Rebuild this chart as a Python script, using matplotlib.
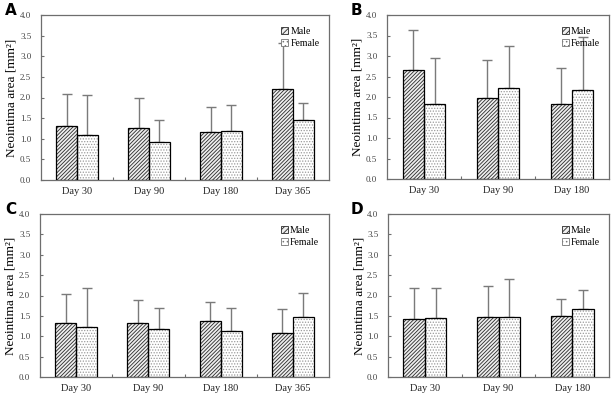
import matplotlib
matplotlib.use("Agg")
import matplotlib.pyplot as plt
from matplotlib.patches import Patch
import numpy as np

plt.rcParams['hatch.linewidth'] = 0.6

# Data
days_4 = ["Day 30", "Day 90", "Day 180", "Day 365"]
days_3 = ["Day 30", "Day 90", "Day 180"]

A_male = [1.30, 1.27, 1.17, 2.21]
A_male_err = [0.78, 0.73, 0.61, 1.11]
A_female = [1.09, 0.92, 1.20, 1.46]
A_female_err = [0.96, 0.54, 0.61, 0.40]

B_male = [2.67, 1.98, 1.82]
B_male_err = [0.97, 0.92, 0.88]
B_female = [1.82, 2.23, 2.18]
B_female_err = [1.12, 1.01, 1.29]

C_male = [1.32, 1.32, 1.38, 1.08]
C_male_err = [0.72, 0.56, 0.47, 0.58]
C_female = [1.22, 1.17, 1.12, 1.48]
C_female_err = [0.96, 0.52, 0.57, 0.58]

D_male = [1.42, 1.47, 1.49]
D_male_err = [0.76, 0.77, 0.42]
D_female = [1.44, 1.47, 1.68]
D_female_err = [0.74, 0.94, 0.46]

yticks = [0.0, 0.5, 1.0, 1.5, 2.0, 2.5, 3.0, 3.5, 4.0]

fig = plt.figure(figsize=(6.12, 3.93), dpi=100)

panels = [
    ("A", [41, 180, 288, 165], days_4, A_male, A_male_err, A_female, A_female_err, (5, 3)),
    ("B", [387, 179, 222, 164], days_3, B_male, B_male_err, B_female, B_female_err, (351, 3)),
    ("C", [40, 377, 289, 163], days_4, C_male, C_male_err, C_female, C_female_err, (5, 202)),
    ("D", [388, 377, 221, 163], days_3, D_male, D_male_err, D_female, D_female_err, (351, 202)),
]

serif = "Liberation Serif"
bw = 0.29
frame_col = "#6e6e6e"
err_col = "#7a7a7a"
male_hatch = "/////////"
female_hatch = "......"

for label, pix, cats, m, me, f, fe, lpos in panels:
    left, bottom_y, w, h = pix
    ax = fig.add_axes([left/612, 1-bottom_y/393, w/612, h/393])
    x = np.arange(len(cats))
    # male bars (hatch)
    ax.bar(x - bw/2, m, bw, color="#eeeeee", edgecolor="#2a2a2a", hatch=male_hatch, linewidth=0, zorder=2)
    ax.bar(x - bw/2, m, bw, fill=False, edgecolor="black", linewidth=0.9, zorder=3)
    # female bars (dots)
    ax.bar(x + bw/2, f, bw, color="white", edgecolor="#9a9a9a", hatch=female_hatch, linewidth=0, zorder=2)
    ax.bar(x + bw/2, f, bw, fill=False, edgecolor="black", linewidth=0.9, zorder=3)
    # error bars (upper only)
    ax.errorbar(x - bw/2, m, yerr=[np.zeros(len(m)), me], fmt="none", ecolor=err_col,
                elinewidth=1.0, capsize=3.5, capthick=1.0, zorder=1)
    ax.errorbar(x + bw/2, f, yerr=[np.zeros(len(f)), fe], fmt="none", ecolor=err_col,
                elinewidth=1.0, capsize=3.5, capthick=1.0, zorder=1)

    ax.set_xlim(-0.5, len(cats) - 0.5)
    ax.set_ylim(0, 4.0)
    ax.set_yticks(yticks)
    ax.set_yticklabels([f"{v:.1f}" for v in yticks], fontfamily=serif, fontsize=6.5, color="#444444")
    ax.set_xticks(x)
    ax.set_xticklabels(cats, fontfamily=serif, fontsize=7.5, color="#222222")
    ax.set_xticks(np.arange(len(cats) - 1) + 0.5, minor=True)
    ax.tick_params(axis="x", which="major", length=0, pad=5)
    ax.tick_params(axis="x", which="minor", direction="in", length=2.5, color=frame_col, width=0.8)
    ax.tick_params(axis="y", direction="in", length=2.5, color=frame_col, width=0.8, pad=7)
    for s in ax.spines.values():
        s.set_color(frame_col)
        s.set_linewidth(0.9)
    ax.set_ylabel("Neointima area [mm²]", fontfamily=serif, fontsize=9.5)
    ax.yaxis.label.set_va("center")
    ax.yaxis.label.set_ha("center")
    ax.yaxis.set_label_coords(-29/w, 0.5)

    h1 = Patch(facecolor="#eeeeee", edgecolor="#2a2a2a", hatch="//////", linewidth=0.6)
    h2 = Patch(facecolor="white", edgecolor="#777777", hatch="....", linewidth=0.6)
    ax.legend([h1, h2], ["Male", "Female"], loc="upper right", frameon=False,
              prop={"family": serif, "size": 7}, handlelength=0.7, handleheight=0.7,
              handletextpad=0.2, labelspacing=0.3, borderaxespad=0.3,
              bbox_to_anchor=(0.99, 0.97))

    fig.text(lpos[0]/612, 1-lpos[1]/393, label, fontsize=11, fontweight="bold", fontfamily="DejaVu Sans",
             ha="left", va="top")

fig.savefig("out.png", dpi=100)
